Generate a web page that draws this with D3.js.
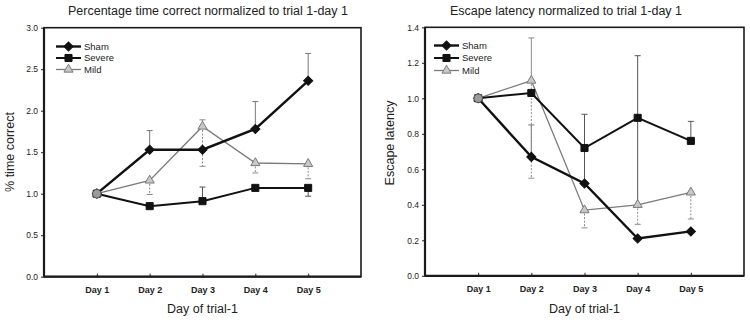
<!DOCTYPE html>
<html>
<head>
<meta charset="utf-8">
<script src="https://cdn.jsdelivr.net/npm/d3@7"></script>
<style>
  body { margin: 0; background: #fff; }
  svg { display: block; font-family: "Liberation Sans", Arial, sans-serif; }
</style>
</head>
<body>
<div id="chart"></div>
<script>
// ---- data ----
const days = ["Day 1", "Day 2", "Day 3", "Day 4", "Day 5"];
const seriesNames = ["Sham", "Severe", "Mild"];

// left panel: % time correct
const pctSham   = [1.00, 1.53, 1.53, 1.78, 2.36];
const pctSevere = [1.00, 0.85, 0.91, 1.07, 1.07];
const pctMild   = [1.00, 1.16, 1.81, 1.37, 1.36];
// error bar ends (null = none drawn)
const pctShamHi   = [null, 1.76, null, 2.11, 2.69];
const pctSevereHi = [null, null, 1.08, null, null];
const pctSevereLo = [null, null, null, null, 0.97];
const pctMildHi   = [null, null, 1.89, null, null];
const pctMildLo   = [null, 0.99, 1.33, 1.25, 1.18];
const pctTicks = [0, 0.5, 1.0, 1.5, 2.0, 2.5, 3.0];

// right panel: escape latency
const latSham   = [1.00, 0.67, 0.52, 0.21, 0.25];
const latSevere = [1.00, 1.03, 0.72, 0.89, 0.76];
const latMild   = [1.00, 1.10, 0.37, 0.40, 0.47];
const latShamHi   = [null, 0.85, null, null, null];
const latSevereHi = [null, null, 0.91, 1.24, 0.87];
const latSevereLo = [null, null, 0.53, 0.40, null];
const latMildHi   = [null, 1.34, null, null, null];
const latMildLo   = [null, 0.55, 0.27, 0.29, 0.32];
const latTicks = [0, 0.2, 0.4, 0.6, 0.8, 1.0, 1.2, 1.4];

const W = 750, H = 322;
const svg = d3.select("#chart").append("svg")
  .attr("width", W).attr("height", H)
  .attr("viewBox", [0, 0, W, H]);

// diamond = square turned 45deg (d3's diamond is too tall)
const styles = {
  Sham:   { stroke: "#111", width: 2.4, fill: "#111", shape: d3.symbolSquare, rot: 45, size: 42, errColor: "#777", dash: null },
  Severe: { stroke: "#111", width: 2,   fill: "#111", shape: d3.symbolSquare, rot: 0, size: 50, errColor: "#555", dash: null },
  Mild:   { stroke: "#7a7a7a", width: 1.3, fill: "#c8c8c8", shape: d3.symbolTriangle, rot: 0, size: 36, errColor: "#8c8c8c", dash: "2,1.5" }
};

function drawPanel(p) {
  const g = svg.append("g");
  const x = d3.scaleLinear().domain([0, 6]).range([p.left, p.right]);
  const y = d3.scaleLinear().domain([0, p.ymax]).range([p.bottom, p.top]);

  // title
  g.append("text")
    .attr("x", p.titleX).attr("y", 15)
    .attr("text-anchor", "middle")
    .attr("font-size", 12.5).attr("fill", "#222")
    .text(p.title);

  // y axis
  g.append("g")
    .attr("transform", `translate(${p.left},0)`)
    .call(d3.axisLeft(y).tickValues(p.ticks).tickFormat(d3.format(".1f")).tickSize(3).tickPadding(3))
    .call(a => a.select(".domain").remove())
    .call(a => a.selectAll("line").attr("stroke", "#222"))
    .call(a => a.selectAll("text").attr("font-size", 8.5).attr("fill", "#222")
      .attr("font-family", "Liberation Sans, Arial, sans-serif"));

  // x axis (ticks pointing inward)
  g.append("g")
    .attr("transform", `translate(0,${p.bottom})`)
    .call(d3.axisBottom(x).tickValues([1, 2, 3, 4, 5]).tickFormat((d, i) => days[i]).tickSize(-3).tickPadding(10))
    .call(a => a.select(".domain").remove())
    .call(a => a.selectAll("line").attr("stroke", "#222"))
    .call(a => a.selectAll("text").attr("font-size", 9).attr("font-weight", "bold").attr("fill", "#222")
      .attr("font-family", "Liberation Sans, Arial, sans-serif"));

  // frame
  g.append("rect")
    .attr("x", p.left).attr("y", p.top)
    .attr("width", p.right - p.left).attr("height", p.bottom - p.top)
    .attr("fill", "none").attr("stroke", "#1a1a1a").attr("stroke-width", 1.6);
  g.append("line")
    .attr("x1", p.left).attr("x2", p.left).attr("y1", p.top).attr("y2", p.bottom)
    .attr("stroke", "#1a1a1a").attr("stroke-width", 2.2);
  g.append("line")
    .attr("x1", p.left).attr("x2", p.right).attr("y1", p.bottom).attr("y2", p.bottom)
    .attr("stroke", "#1a1a1a").attr("stroke-width", 2.2);

  // axis titles
  g.append("text")
    .attr("x", (p.left + p.right) / 2).attr("y", 313)
    .attr("text-anchor", "middle").attr("font-size", 12.5).attr("fill", "#222")
    .text("Day of trial-1");
  g.append("text")
    .attr("transform", `translate(${p.ylabX},${p.ylabY}) rotate(-90)`)
    .attr("text-anchor", "middle").attr("font-size", 12.5).attr("fill", "#222")
    .text(p.ylab);

  // error bars
  const cap = 3;
  p.series.forEach(s => {
    const st = styles[s.name];
    ["hi", "lo"].forEach(k => {
      const ends = s[k];
      if (!ends) return;
      ends.forEach((e, i) => {
        if (e == null) return;
        const cx = x(i + 1);
        g.append("line")
          .attr("x1", cx).attr("x2", cx)
          .attr("y1", y(s.values[i])).attr("y2", y(e))
          .attr("stroke", st.errColor).attr("stroke-width", 1)
          .attr("stroke-dasharray", k === "lo" ? st.dash : null);
        g.append("line")
          .attr("x1", cx - cap).attr("x2", cx + cap)
          .attr("y1", y(e)).attr("y2", y(e))
          .attr("stroke", st.errColor).attr("stroke-width", 1);
      });
    });
  });

  // lines + markers (mild drawn first so black series stay on top)
  const line = d3.line().x((d, i) => x(i + 1)).y(d => y(d));
  [p.series[2], p.series[1], p.series[0]].forEach(s => {
    const st = styles[s.name];
    g.append("path")
      .attr("d", line(s.values))
      .attr("fill", "none").attr("stroke", st.stroke).attr("stroke-width", st.width);
  });
  [p.series[2], p.series[1], p.series[0]].forEach(s => {
    const st = styles[s.name];
    g.selectAll(null).data(s.values).join("path")
      .attr("transform", (d, i) => `translate(${x(i + 1)},${y(d)}) rotate(${st.rot})`)
      .attr("d", d3.symbol(st.shape, st.size))
      .attr("fill", st.fill).attr("stroke", st.stroke).attr("stroke-width", 1);
  });
  // day 1: all groups coincide, shown as a grey dot
  g.append("circle")
    .attr("cx", x(1)).attr("cy", y(1))
    .attr("r", 4.3).attr("fill", "#9a9a9a").attr("stroke", "#555").attr("stroke-width", 1);

  // legend
  seriesNames.forEach((n, i) => {
    const st = styles[n];
    const ly = p.legY + i * p.legStep;
    g.append("line")
      .attr("x1", p.legX).attr("x2", p.legX + 25)
      .attr("y1", ly).attr("y2", ly)
      .attr("stroke", st.stroke).attr("stroke-width", st.width);
    g.append("path")
      .attr("transform", `translate(${p.legX + 12.5},${ly}) rotate(${st.rot})`)
      .attr("d", d3.symbol(st.shape, st.size))
      .attr("fill", st.fill).attr("stroke", st.stroke).attr("stroke-width", 1);
    g.append("text")
      .attr("x", p.legX + 28).attr("y", ly + 3.2)
      .attr("font-size", 9.5).attr("fill", "#222")
      .text(n);
  });
}

drawPanel({
  left: 44, right: 361, top: 27.7, bottom: 276.7, ymax: 3.0, ticks: pctTicks,
  title: "Percentage time correct normalized to trial 1-day 1", titleX: 208,
  ylab: "% time correct", ylabX: 14, ylabY: 152,
  legX: 56, legY: 46.5, legStep: 11.5,
  series: [
    { name: "Sham", values: pctSham, hi: pctShamHi, lo: null },
    { name: "Severe", values: pctSevere, hi: pctSevereHi, lo: pctSevereLo },
    { name: "Mild", values: pctMild, hi: pctMildHi, lo: pctMildLo }
  ]
});

drawPanel({
  left: 425, right: 744, top: 27.3, bottom: 275.8, ymax: 1.4, ticks: latTicks,
  title: "Escape latency normalized to trial 1-day 1", titleX: 566,
  ylab: "Escape latency", ylabX: 394, ylabY: 143,
  legX: 434, legY: 45.5, legStep: 12.5,
  series: [
    { name: "Sham", values: latSham, hi: latShamHi, lo: null },
    { name: "Severe", values: latSevere, hi: latSevereHi, lo: latSevereLo },
    { name: "Mild", values: latMild, hi: latMildHi, lo: latMildLo }
  ]
});
</script>
</body>
</html>
